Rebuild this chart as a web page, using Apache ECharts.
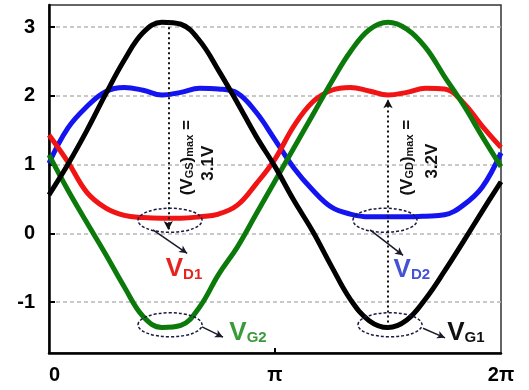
<!DOCTYPE html>
<html>
<head>
<meta charset="utf-8">
<script src="https://cdn.jsdelivr.net/npm/echarts@6/dist/echarts.min.js"></script>
<style>
  html, body { margin: 0; padding: 0; background: #fff; }
  #chart { width: 529px; height: 390px; }
</style>
</head>
<body>
<div id="chart"></div>
<script>
// phase in degrees (0 .. 360 = 0 .. 2π), voltages in V
var phase = [0, 15, 30, 45, 60, 75, 90, 105, 120, 135, 150, 165, 180, 195, 210, 225, 240, 255, 270, 285, 300, 315, 330, 345, 360]
var vG1 = [0.56, 1.0, 1.49, 2.02, 2.52, 2.92, 3.07, 3.04, 2.8, 2.37, 1.9, 1.41, 0.97, 0.48, 0.03, -0.48, -0.96, -1.27, -1.37, -1.26, -0.95, -0.55, -0.12, 0.32, 0.75]
var vG2 = [1.14, 0.63, 0.16, -0.3, -0.78, -1.21, -1.37, -1.34, -1.07, -0.6, -0.2, 0.28, 0.76, 1.24, 1.72, 2.2, 2.64, 2.96, 3.07, 2.97, 2.7, 2.28, 1.87, 1.41, 0.97]
var vD1 = [1.43, 1.04, 0.6, 0.37, 0.26, 0.23, 0.22, 0.22, 0.24, 0.28, 0.41, 0.72, 1.08, 1.56, 1.91, 2.08, 2.12, 2.07, 2.01, 2.05, 2.11, 2.1, 1.9, 1.56, 1.25]
var vD2 = [1.02, 1.53, 1.84, 2.06, 2.12, 2.08, 2.01, 2.05, 2.11, 2.1, 2.04, 1.76, 1.36, 0.95, 0.63, 0.38, 0.28, 0.24, 0.24, 0.24, 0.25, 0.27, 0.41, 0.67, 1.17]
var xTicks = [0, 180, 360]
var xTickNames = ['0', 'π', '2π']
var yTicks = [-1, 0, 1, 2, 3]

function pairs (ys) {
  return phase.map(function (x, i) { return [x, ys[i]] })
}

function curve (name, ys, color) {
  return {
    name: name,
    type: 'line',
    data: pairs(ys),
    smooth: 0.4,
    symbol: 'none',
    lineStyle: { width: 5, color: color },
    z: 3
  }
}

var fontFam = '"Liberation Sans", Arial, sans-serif'

var sD2 = curve('VD2', vD2, '#1414f0')
var sD1 = curve('VD1', vD1, '#f01414')
var sG2 = curve('VG2', vG2, '#0b7a0b')
var sG1 = curve('VG1', vG1, '#000000')

// dotted max-voltage arrows
sG1.markLine = {
  silent: true,
  symbol: ['none', 'arrow'],
  symbolSize: [7, 9],
  label: { show: false },
  lineStyle: { type: [2, 3], color: '#111', width: 2 },
  data: [
    [{ coord: [95, 3.07] }, { coord: [95, 0.05] }],
    [{ coord: [270, -1.37] }, { coord: [270, 1.95] }]
  ]
}

// little pointer arrows from the ellipses to the labels
sG2.markLine = {
  silent: true,
  symbol: ['none', 'arrow'],
  symbolSize: [6, 8],
  label: { show: false },
  lineStyle: { type: 'solid', color: '#1a1a2a', width: 1.5 },
  data: [
    [{ coord: [82.8, 0.05] }, { coord: [110, -0.29] }],
    [{ coord: [121.9, -1.36] }, { coord: [138.6, -1.51] }],
    [{ coord: [255.7, 0.05] }, { coord: [282, -0.32] }],
    [{ coord: [297.9, -1.38] }, { coord: [315.4, -1.52] }]
  ]
}

var option = {
  animation: false,
  backgroundColor: '#fff',
  grid: {
    left: 49,
    right: 28,
    top: 5,
    bottom: 37,
    show: true,
    borderColor: '#333',
    borderWidth: 1.5
  },
  xAxis: {
    type: 'value',
    min: 0,
    max: 360,
    axisLine: { show: true, onZero: false, lineStyle: { color: '#000', width: 2.5 } },
    axisTick: { show: true, inside: true, length: 5, customValues: [180], lineStyle: { color: '#000', width: 2 } },
    axisLabel: {
      customValues: xTicks,
      formatter: function (v) { return xTickNames[xTicks.indexOf(v)] },
      alignMinLabel: 'left',
      margin: 12,
      color: '#000',
      fontSize: 20,
      fontWeight: 'bold',
      fontFamily: fontFam
    },
    splitLine: { show: false }
  },
  yAxis: {
    type: 'value',
    min: -1.74,
    max: 3.32,
    axisLine: { show: true, onZero: false, lineStyle: { color: '#000', width: 2.5 } },
    axisTick: { show: true, inside: true, length: 6, customValues: yTicks, lineStyle: { color: '#000', width: 2 } },
    axisLabel: {
      customValues: yTicks,
      margin: 14,
      color: '#000',
      fontSize: 20,
      fontWeight: 'bold',
      fontFamily: fontFam
    },
    splitLine: { show: true, lineStyle: { color: '#b8b8b8', width: 1.5, type: [4, 3] } }
  },
  series: [sD2, sD1, sG2, sG1]
}

var chart = echarts.init(document.getElementById('chart'))
chart.setOption(option)

function px (p) {
  return chart.convertToPixel({ gridIndex: 0 }, p)
}

function ring (center) {
  var c = px(center)
  var e = px([center[0] + 25.5, center[1] - 0.175])
  return {
    type: 'ellipse',
    shape: { cx: c[0], cy: c[1], rx: e[0] - c[0], ry: e[1] - c[1] },
    style: { fill: 'none', stroke: '#1a1a40', lineWidth: 1.5, lineDash: [3, 2] },
    z: 10
  }
}

function tag (pos, main, sub, color) {
  var p = px(pos)
  return {
    type: 'text',
    x: p[0],
    y: p[1],
    z: 10,
    style: {
      text: '{v|' + main + '}{s|' + sub + '}',
      align: 'center',
      verticalAlign: 'middle',
      rich: {
        v: { fontSize: 26, fontWeight: 'bold', fontFamily: fontFam, fill: color },
        s: { fontSize: 15, fontWeight: 'bold', fontFamily: fontFam, fill: color, verticalAlign: 'bottom', padding: [9, 0, 0, 0] }
      }
    }
  }
}

function vtext (pos, text) {
  var p = px(pos)
  return {
    type: 'text',
    x: p[0],
    y: p[1],
    rotation: Math.PI / 2,
    z: 10,
    style: {
      text: text,
      align: 'center',
      verticalAlign: 'middle',
      fill: '#111',
      rich: {
        t: { fontSize: 17, fontWeight: 'bold', fontFamily: fontFam, fill: '#111' },
        s: { fontSize: 11, fontWeight: 'bold', fontFamily: fontFam, fill: '#111', verticalAlign: 'bottom', padding: [6, 0, 0, 0] }
      }
    }
  }
}

chart.setOption({
  graphic: [
    ring([96.4, 0.19]),
    ring([96.4, -1.33]),
    ring([267.6, 0.19]),
    ring([271.6, -1.33]),
    tag([107.5, -0.52], 'V', 'D1', '#e52420'),
    tag([158.5, -1.44], 'V', 'G2', '#3a9a3a'),
    tag([289, -0.53], 'V', 'D2', '#4452d6'),
    tag([332, -1.44], 'V', 'G1', '#111'),
    vtext([110, 1.1], '{t|(V}{s|GS}{t|)}{s|max}{t| =}'),
    vtext([126.5, 1.02], '{t|3.1V}'),
    vtext([285, 1.1], '{t|(V}{s|GD}{t|)}{s|max}{t| =}'),
    vtext([305.5, 1.05], '{t|3.2V}')
  ]
})
</script>
</body>
</html>
